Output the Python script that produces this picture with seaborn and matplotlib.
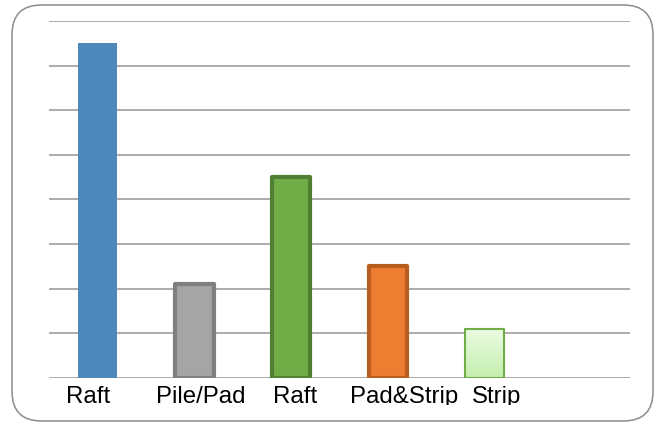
import numpy as np
import pandas as pd
import matplotlib
matplotlib.use("Agg")
import matplotlib.pyplot as plt
import matplotlib.transforms as mtransforms
from matplotlib.patches import FancyBboxPatch
from matplotlib.colors import LinearSegmentedColormap
import seaborn as sns

# ---- data ----
slots = [0, 1, 2, 3, 4, 5]
categories = ["Raft", "Pile/Pad", "Raft", "Pad&Strip", "Strip"]
values = [7.5, 2.1, 4.5, 2.5, 1.1]
tick_labels = ["Raft", "Pile/Pad", "Raft", "Pad&Strip", "Strip", ""]
fills = ["#4F88BB", "#A5A5A5", "#70AD47", "#ED7D31", "#D8F5C8"]
edges = ["#4F88BB", "#7F7F7F", "#507E32", "#B65D1F", "#70AD47"]
edge_widths = [0.0, 3.0, 3.0, 3.0, 1.5]
label_shift_px = [-9, 7, 4, 16, 12, 0]

df = pd.DataFrame({"slot": slots[:len(values)], "value": values, "name": categories})

sns.set_theme(style="white")
plt.rcParams["font.family"] = ["Liberation Sans", "DejaVu Sans"]

W, H = 657, 423
fig = plt.figure(figsize=(W / 100, H / 100), dpi=100)
ax = fig.add_axes([49 / W, (H - 378) / H, 581 / W, (378 - 21) / H])

sns.barplot(data=df, x="slot", y="value", order=slots, width=0.4,
            hue="slot", palette=dict(zip(slots, fills + ["#ffffff"])),
            saturation=1, legend=False, ax=ax, zorder=3)

for i, p in enumerate(ax.patches[:len(values)]):
    p.set_edgecolor(edges[i])
    p.set_linewidth(edge_widths[i])
    p.set_joinstyle("round")

# gradient fill for the last bar (lighter at top)
last = ax.patches[len(values) - 1]
x0, y0 = last.get_x(), last.get_y()
w, h = last.get_width(), last.get_height()
grad = np.linspace(0, 1, 100).reshape(-1, 1)
cmap = LinearSegmentedColormap.from_list("g", ["#EBFBE3", "#C4EFAE"])
im = ax.imshow(grad, extent=[x0, x0 + w, y0, y0 + h], cmap=cmap, aspect="auto",
               origin="upper", zorder=3.5)
im.set_clip_path(last)
last.set_facecolor("none")
last.set_zorder(4)

ax.set_xlim(-0.5, 5.5)
ax.set_ylim(0, 8)
ax.set_yticks(range(0, 9))
ax.set_yticklabels([])
ax.grid(axis="y", color="#A6A6A6", linewidth=1.3)
ax.grid(axis="x", visible=False)
ax.set_axisbelow(True)
for s in ax.spines.values():
    s.set_visible(False)
ax.tick_params(length=0, axis="both", pad=6)
ax.set_xlabel("")
ax.set_ylabel("")
ax.set_xticks(slots)
ax.set_xticklabels(tick_labels, fontsize=17.3, color="#000000")

clip = mtransforms.TransformedBbox(mtransforms.Bbox([[0, (H - 405) / H], [1, 1]]), fig.transFigure)
for lbl, dx in zip(ax.get_xticklabels(), label_shift_px):
    lbl.set_transform(lbl.get_transform() + mtransforms.ScaledTranslation(dx / 100, 0, fig.dpi_scale_trans))
    lbl.set_clip_box(clip)
    lbl.set_clip_on(True)

border = FancyBboxPatch((12 / W, (H - 421) / H), (653 - 12) / W, (421 - 5) / H,
                        boxstyle="round,pad=0,rounding_size=0.045",
                        transform=fig.transFigure, facecolor="none",
                        edgecolor="#8C8C8C", linewidth=1.1, mutation_aspect=W / H)
fig.patches.append(border)

fig.savefig("out.png", dpi=100)
